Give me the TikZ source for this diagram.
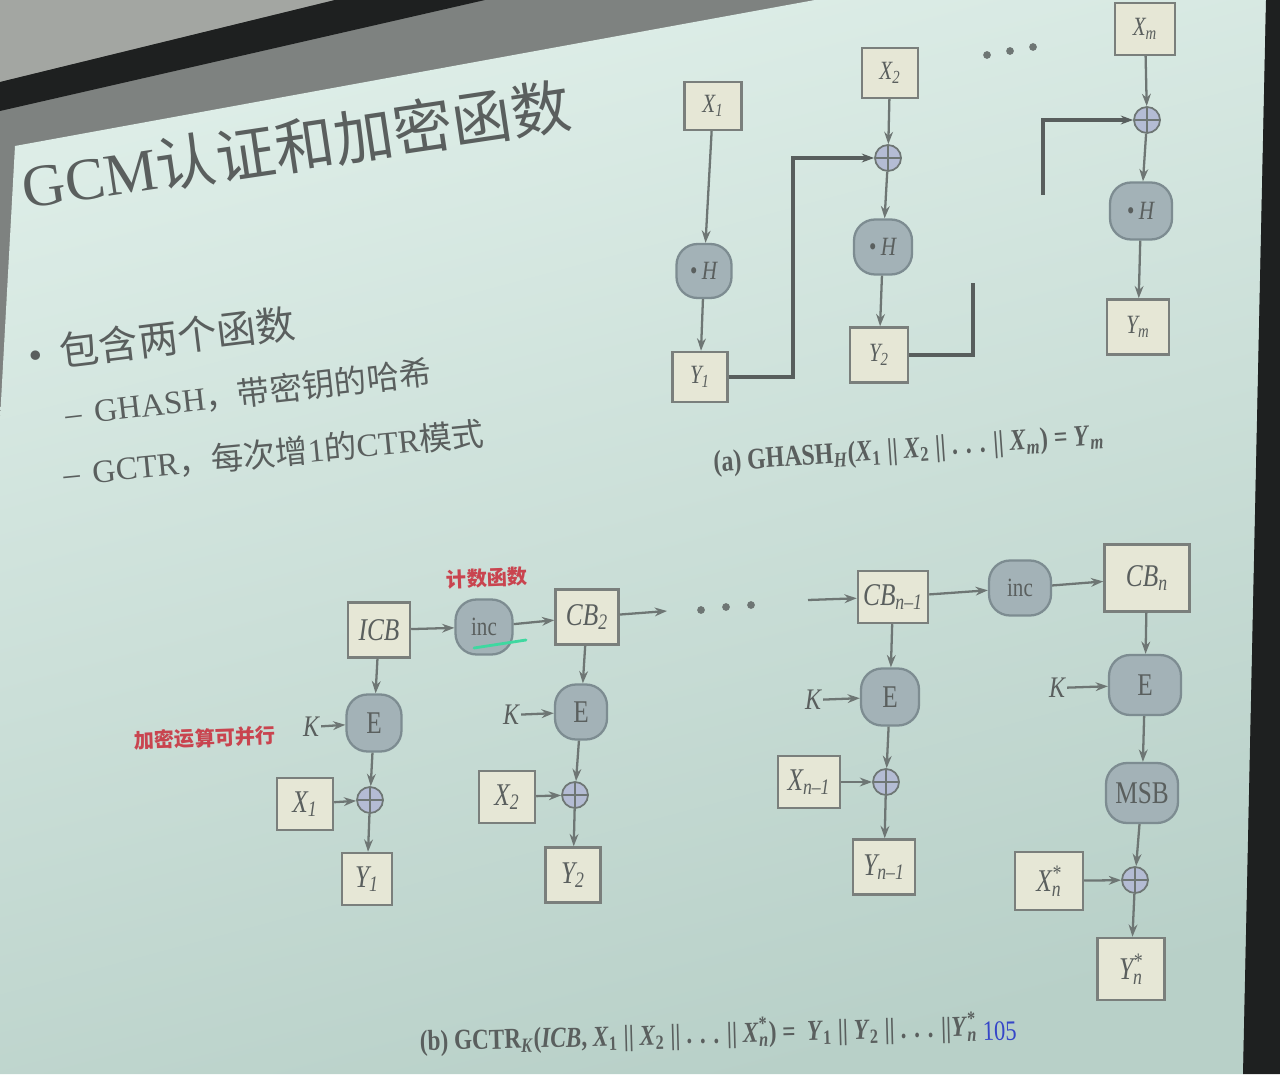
\documentclass[tikz,border=0pt]{standalone}
\usepackage{fontspec}
\setmainfont{Liberation Serif}
\newfontfamily\cjk{Noto Sans CJK SC}
\newfontfamily\diagfont{Liberation Serif}[FakeStretch=0.8]
\usetikzlibrary{arrows.meta,calc}

\definecolor{slidehi}{HTML}{DEEEE8}
\definecolor{slidelo}{HTML}{B8D0C8}
\definecolor{framegray}{HTML}{7E8280}
\definecolor{ceiling}{HTML}{A3A6A2}
\definecolor{blackband}{HTML}{1E2020}
\definecolor{ink}{HTML}{5A5F5E}
\definecolor{boxfill}{HTML}{E6E7D6}
\definecolor{boxline}{HTML}{7A7F7C}
\definecolor{opfill}{HTML}{A3B2B7}
\definecolor{opline}{HTML}{7D8C91}
\definecolor{xorfill}{HTML}{B4BCD4}
\definecolor{wire}{HTML}{6E7674}
\definecolor{note}{HTML}{C9444F}
\definecolor{pageno}{HTML}{3546C8}
\definecolor{penmark}{HTML}{3FD8A0}

% subscript and superscript stacked on one base
\newcommand\subsupr[2]{\makebox[0pt][l]{\textsuperscript{#2}}\textsubscript{#1}}

\tikzset{
  blk/.style={draw=boxline, fill=boxfill, line width=1.4pt, inner sep=0pt,
    text=ink, font=\diagfont\fontsize{15}{15}\selectfont\itshape},
  bigblk/.style={blk, font=\diagfont\fontsize{18}{18}\selectfont\itshape},
  op/.style={draw=opline, fill=opfill, line width=1.3pt, rounded corners=0.42cm,
    inner sep=0pt, text=ink, font=\diagfont\fontsize{15}{15}\selectfont},
  bigop/.style={op, font=\diagfont\fontsize{18}{18}\selectfont},
  xor/.style={circle, draw=wire, fill=xorfill, line width=1pt, minimum size=0.52cm,
    inner sep=0pt, path picture={
      \draw[wire, line width=1pt]
        (path picture bounding box.north) -- (path picture bounding box.south)
        (path picture bounding box.west) -- (path picture bounding box.east);}},
  arr/.style={draw=wire, line width=1.3pt, -{Stealth[length=7pt,width=5pt]}},
  feed/.style={draw=wire!80!black, line width=2.1pt},
  keylbl/.style={inner sep=1pt, text=ink, font=\diagfont\fontsize{17}{17}\selectfont\itshape},
  notelbl/.style={text=note, font=\cjk\bfseries\fontsize{11.5}{11.5}\selectfont},
  caption/.style={text=ink, font=\diagfont\bfseries\fontsize{17}{17}\selectfont},
  bodytext/.style={text=ink, inner sep=0pt},
}

\begin{document}
\begin{tikzpicture}[x=0.02cm, y=-0.02cm]
\useasboundingbox (0,0) rectangle (1280,1074);

% --- room and screen frame ---
\fill[framegray] (0,0) rectangle (1280,1074);
\fill[ceiling] (0,0) -- (335,0) -- (0,82) -- cycle;
\fill[blackband] (0,82) -- (335,0) -- (485,0) -- (0,111) -- cycle;
\shade[top color=slidehi, bottom color=slidelo, shading angle=15]
  (15,146) -- (815,0) -- (1266,0) -- (1243,1074) -- (0,1074) -- (0,420) -- cycle;
\fill[blackband] (1266,0) -- (1280,0) -- (1280,1074) -- (1243,1074) -- cycle;

% --- title and bullet list ---
\node[bodytext, anchor=base west, rotate=8.5] (title) at (25,209)
  {\fontsize{34}{34}\selectfont GCM{\cjk 认证和加密函数}};
\node[bodytext, anchor=base west, rotate=7] (item1) at (30,370)
  {\fontsize{22.5}{22.5}\selectfont\textbullet\hspace{0.45em}{\cjk 包含两个函数}};
\node[bodytext, anchor=base west, rotate=6.5] (item2) at (66,426)
  {\fontsize{18.5}{18.5}\selectfont –\hspace{0.4em}GHASH{\cjk ，带密钥的哈希}};
\node[bodytext, anchor=base west, rotate=5.5] (item3) at (64,486)
  {\fontsize{18.5}{18.5}\selectfont –\hspace{0.4em}GCTR{\cjk ，每次增}1{\cjk 的}CTR{\cjk 模式}};

% --- (a) GHASH chain ---
\node[blk, minimum width=1.14cm, minimum height=0.96cm] (X1a) at (713,106) {X\textsubscript{1}};
\node[op,  minimum width=1.10cm, minimum height=1.08cm] (H1) at (704,271) {\textbullet\,\textit{H}};
\node[blk, minimum width=1.10cm, minimum height=1.00cm] (Y1a) at (700,377) {Y\textsubscript{1}};

\node[blk, minimum width=1.12cm, minimum height=1.00cm] (X2a) at (890,73) {X\textsubscript{2}};
\node[xor] (xa2) at (888,158) {};
\node[op,  minimum width=1.16cm, minimum height=1.10cm] (H2) at (883,247) {\textbullet\,\textit{H}};
\node[blk, minimum width=1.16cm, minimum height=1.10cm] (Y2a) at (879,355) {Y\textsubscript{2}};

\node[blk, minimum width=1.20cm, minimum height=1.04cm] (Xma) at (1145,29) {X\textsubscript{m}};
\node[xor] (xam) at (1147,120) {};
\node[op,  minimum width=1.24cm, minimum height=1.14cm] (Hm) at (1141,211) {\textbullet\,\textit{H}};
\node[blk, minimum width=1.24cm, minimum height=1.10cm] (Yma) at (1138,327) {Y\textsubscript{m}};

\coordinate (feedm) at (1043,195);

\draw[arr] (X1a) -- (H1);
\draw[arr] (H1) -- (Y1a);
\draw[feed, -{Stealth[length=7pt,width=5pt]}] (Y1a.east) -- ++(64,0) |- (xa2);
\draw[arr] (X2a) -- (xa2);
\draw[arr] (xa2) -- (H2);
\draw[arr] (H2) -- (Y2a);
\draw[feed] (Y2a.east) -- ++(64,0) -- ++(0,-72);
\draw[feed, -{Stealth[length=7pt,width=5pt]}] (feedm) |- (xam);
\draw[arr] (Xma) -- (xam);
\draw[arr] (xam) -- (Hm);
\draw[arr] (Hm) -- (Yma);

\foreach \px/\py in {987/55, 1010/51, 1033/47}
  \fill[wire] (\px,\py) circle[radius=2.2pt];

\node[caption, anchor=base west, rotate=4] (capa) at (708,472)
  {(a) GHASH\textsubscript{\textit{H}}(\textit{X}\textsubscript{1} || \textit{X}\textsubscript{2} || . . . || \textit{X}\textsubscript{\textit{m}}) = \textit{Y}\textsubscript{\textit{m}}};

% --- (b) GCTR chain: counter row ---
\node[notelbl, rotate=2] (countnote) at (487,578) {计数函数};
\node[bigblk, minimum width=1.24cm, minimum height=1.10cm] (ICB) at (379,630) {ICB};
\node[op, minimum width=1.14cm, minimum height=1.10cm] (incA) at (484,627) {inc};
\node[bigblk, minimum width=1.26cm, minimum height=1.10cm] (CB2) at (587,617) {CB\textsubscript{2}};
\coordinate (cbout) at (667,611);
\coordinate (cbin) at (808,600);
\node[bigblk, minimum width=1.40cm, minimum height=1.04cm] (CBn1) at (893,597) {CB\textsubscript{\textit{n}–1}};
\node[op, minimum width=1.24cm, minimum height=1.10cm] (incB) at (1020,588) {inc};
\node[bigblk, minimum width=1.70cm, minimum height=1.34cm] (CBn) at (1147,578) {CB\textsubscript{\textit{n}}};

\draw[arr] (ICB) -- (incA);
\draw[arr] (incA) -- (CB2);
\draw[arr] (CB2) -- (cbout);
\draw[arr] (cbin) -- (CBn1);
\draw[arr] (CBn1) -- (incB);
\draw[arr] (incB) -- (CBn);

\foreach \px/\py in {701/610, 726/607, 751/605}
  \fill[wire] (\px,\py) circle[radius=2.2pt];

\draw[penmark, line width=1.6pt, line cap=round] (474,648) -- (526,640);

% --- (b) block 1 ---
\node[notelbl, rotate=2] (parnote) at (205,738) {加密运算可并行};
\node[bigop, minimum width=1.10cm, minimum height=1.14cm] (E1) at (374,723) {E};
\node[keylbl] (K1) at (311,727) {K};
\node[bigblk, minimum width=1.12cm, minimum height=1.04cm] (X1b) at (305,804) {X\textsubscript{1}};
\node[xor] (xb1) at (370,800) {};
\node[bigblk, minimum width=1.00cm, minimum height=1.04cm] (Y1b) at (367,879) {Y\textsubscript{1}};
\draw[arr] (ICB) -- (E1);
\draw[arr] (K1) -- (E1);
\draw[arr] (E1) -- (xb1);
\draw[arr] (X1b) -- (xb1);
\draw[arr] (xb1) -- (Y1b);

% --- (b) block 2 ---
\node[bigop, minimum width=1.04cm, minimum height=1.10cm] (E2) at (581,712) {E};
\node[keylbl] (K2) at (511,715) {K};
\node[bigblk, minimum width=1.12cm, minimum height=1.04cm] (X2b) at (507,797) {X\textsubscript{2}};
\node[xor] (xb2) at (575,795) {};
\node[bigblk, minimum width=1.10cm, minimum height=1.10cm] (Y2b) at (573,875) {Y\textsubscript{2}};
\draw[arr] (CB2) -- (E2);
\draw[arr] (K2) -- (E2);
\draw[arr] (E2) -- (xb2);
\draw[arr] (X2b) -- (xb2);
\draw[arr] (xb2) -- (Y2b);

% --- (b) block n-1 ---
\node[bigop, minimum width=1.16cm, minimum height=1.14cm] (E3) at (890,697) {E};
\node[keylbl] (K3) at (813,700) {K};
\node[bigblk, minimum width=1.24cm, minimum height=1.04cm] (X3b) at (809,782) {X\textsubscript{\textit{n}–1}};
\node[xor] (xb3) at (886,782) {};
\node[bigblk, minimum width=1.24cm, minimum height=1.10cm] (Y3b) at (884,867) {Y\textsubscript{\textit{n}–1}};
\draw[arr] (CBn1) -- (E3);
\draw[arr] (K3) -- (E3);
\draw[arr] (E3) -- (xb3);
\draw[arr] (X3b) -- (xb3);
\draw[arr] (xb3) -- (Y3b);

% --- (b) last block ---
\node[bigop, minimum width=1.44cm, minimum height=1.20cm] (E4) at (1145,685) {E};
\node[keylbl] (K4) at (1057,688) {K};
\node[bigop, minimum width=1.44cm, minimum height=1.20cm] (MSB) at (1142,793) {MSB};
\node[bigblk, minimum width=1.36cm, minimum height=1.16cm] (X4b) at (1049,881) {X\subsupr{\textit{n}}{*}};
\node[xor] (xb4) at (1135,880) {};
\node[bigblk, minimum width=1.34cm, minimum height=1.24cm] (Y4b) at (1131,969) {Y\subsupr{\textit{n}}{*}};
\draw[arr] (CBn) -- (E4);
\draw[arr] (K4) -- (E4);
\draw[arr] (E4) -- (MSB);
\draw[arr] (MSB) -- (xb4);
\draw[arr] (X4b) -- (xb4);
\draw[arr] (xb4) -- (Y4b);

\node[caption, anchor=base west, rotate=1.5, font=\diagfont\bfseries\fontsize{16.5}{16.5}\selectfont] (capb) at (414,1051)
  {(b) GCTR\textsubscript{\textit{K}}(\textit{ICB}, \textit{X}\textsubscript{1} || \textit{X}\textsubscript{2} || . . . || \textit{X}\subsupr{\textit{n}}{*}) = \ \textit{Y}\textsubscript{1} || \textit{Y}\textsubscript{2} || . . . ||\textit{Y}\subsupr{\textit{n}}{*}};
\node[text=pageno, font=\diagfont\fontsize{16}{16}\selectfont, anchor=base west, rotate=1.5] (pageno) at (977,1041) {105};

\end{tikzpicture}
\end{document}
